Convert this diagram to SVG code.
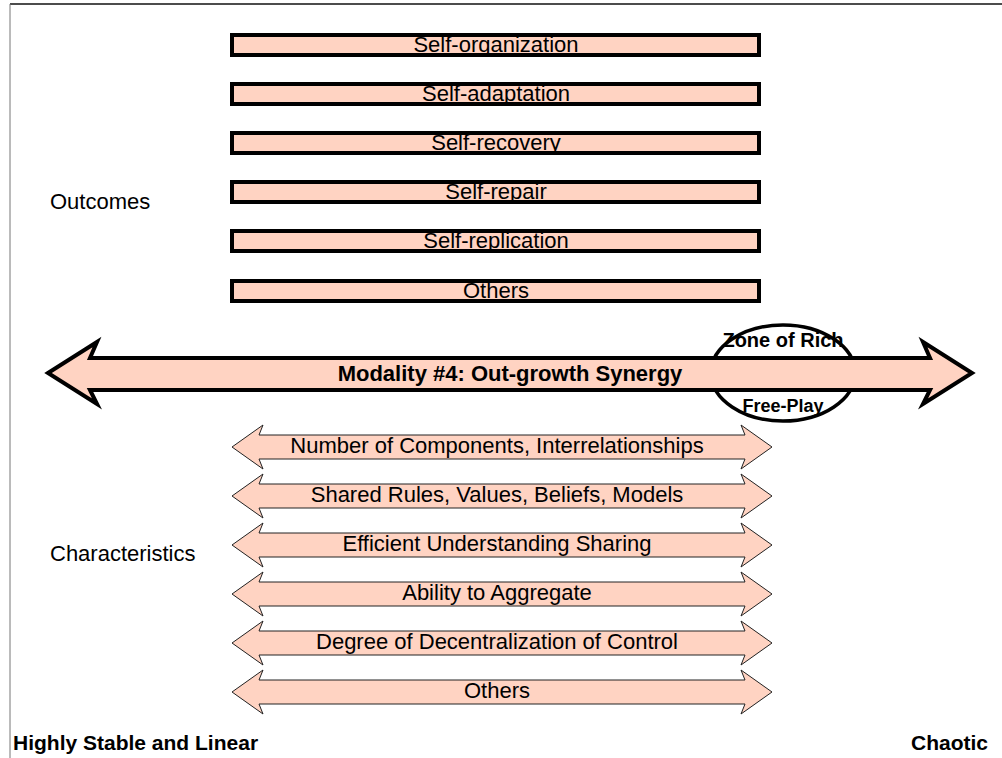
<svg xmlns="http://www.w3.org/2000/svg" width="1002" height="758" viewBox="0 0 1002 758">
<style>
.bar{fill:#ffd3c2;stroke:#000;stroke-width:4}
.bt{font-family:"Liberation Sans",Arial,sans-serif;font-size:22px;fill:#000;text-anchor:middle}
.ca{fill:#ffd3c2;stroke:#222;stroke-width:1}
.lab{font-family:"Liberation Sans",Arial,sans-serif;font-size:22px;fill:#000}
.bold{font-family:"Liberation Sans",Arial,sans-serif;font-weight:bold;fill:#000}
</style>
<rect width="1002" height="758" fill="#fff"/>
<g id="frame">
<line x1="10" y1="4" x2="1002" y2="4" stroke="#111" stroke-width="1.5"/>
<line x1="10" y1="4" x2="10" y2="758" stroke="#777" stroke-width="1"/>
</g>
<g id="outcomes">
<g id="o1"><rect class="bar" x="232" y="35" width="527" height="20"/><text class="bt" x="496" y="52">Self-organization</text></g>
<g id="o2"><rect class="bar" x="232" y="84" width="527" height="20"/><text class="bt" x="496" y="101">Self-adaptation</text></g>
<g id="o3"><rect class="bar" x="232" y="133" width="527" height="20"/><text class="bt" x="496" y="150">Self-recovery</text></g>
<g id="o4"><rect class="bar" x="232" y="182" width="527" height="20"/><text class="bt" x="496" y="199">Self-repair</text></g>
<g id="o5"><rect class="bar" x="232" y="231" width="527" height="20"/><text class="bt" x="496" y="248">Self-replication</text></g>
<g id="o6"><rect class="bar" x="232" y="281" width="527" height="20"/><text class="bt" x="496" y="298">Others</text></g>
</g>
<g id="label-outcomes"><text class="lab" x="50" y="209">Outcomes</text></g>
<g id="zone">
<ellipse cx="783" cy="373" rx="72" ry="48" fill="#fff" stroke="#000" stroke-width="3.5"/>
<text class="bold" x="783" y="347" font-size="20" text-anchor="middle">Zone of Rich</text>
<text class="bold" x="783" y="412" font-size="18" text-anchor="middle">Free-Play</text>
</g>
<g id="modality">
<path d="M48,373 L97,342 L90,358 L930,358 L923,342 L972,373 L923,404 L930,390 L90,390 L97,404 Z" fill="#ffd3c2" stroke="#000" stroke-width="4" stroke-linejoin="miter"/>
<text class="bold" x="510" y="381" font-size="22" text-anchor="middle">Modality #4: Out-growth Synergy</text>
</g>
<g id="characteristics">
<g id="c1"><path class="ca" d="M232,447 L263,425 L259,435 L745,435 L741,425 L772,447 L741,469 L745,459 L259,459 L263,469 Z"/><text class="bt" x="497" y="453">Number of Components, Interrelationships</text></g>
<g id="c2"><path class="ca" d="M232,496 L263,474 L259,484 L745,484 L741,474 L772,496 L741,518 L745,508 L259,508 L263,518 Z"/><text class="bt" x="497" y="502">Shared Rules, Values, Beliefs, Models</text></g>
<g id="c3"><path class="ca" d="M232,545 L263,523 L259,533 L745,533 L741,523 L772,545 L741,567 L745,557 L259,557 L263,567 Z"/><text class="bt" x="497" y="551">Efficient Understanding Sharing</text></g>
<g id="c4"><path class="ca" d="M232,594 L263,572 L259,582 L745,582 L741,572 L772,594 L741,616 L745,606 L259,606 L263,616 Z"/><text class="bt" x="497" y="600">Ability to Aggregate</text></g>
<g id="c5"><path class="ca" d="M232,643 L263,621 L259,631 L745,631 L741,621 L772,643 L741,665 L745,655 L259,655 L263,665 Z"/><text class="bt" x="497" y="649">Degree of Decentralization of Control</text></g>
<g id="c6"><path class="ca" d="M232,692 L263,670 L259,680 L745,680 L741,670 L772,692 L741,714 L745,704 L259,704 L263,714 Z"/><text class="bt" x="497" y="698">Others</text></g>
</g>
<g id="label-characteristics"><text class="lab" x="50" y="561">Characteristics</text></g>
<g id="axis-labels">
<text class="bold" x="13" y="750" font-size="21">Highly Stable and Linear</text>
<text class="bold" x="988" y="750" font-size="21" text-anchor="end">Chaotic</text>
</g>
</svg>
